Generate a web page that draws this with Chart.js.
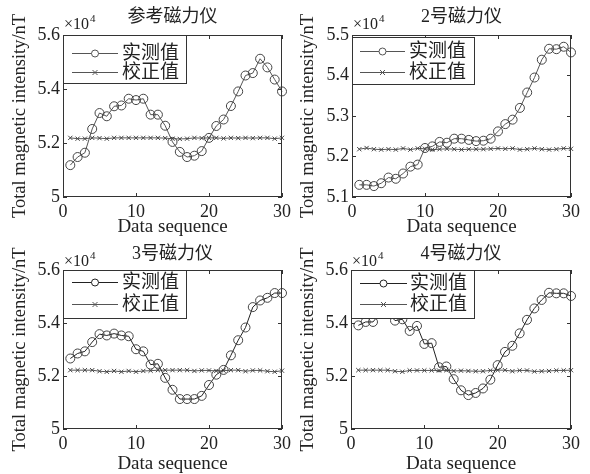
<!DOCTYPE html>
<html lang="zh">
<head>
<meta charset="UTF-8">
<title>磁力仪校正结果</title>
<script src="https://cdn.jsdelivr.net/npm/chart.js"></script>
<style>
  body { margin: 0; background: #fff; }
  .wrap { position: relative; width: 590px; height: 474px; }
  .panel { position: absolute; width: 295px; height: 237px; }
</style>
</head>
<body>
<div class="wrap">
  <div class="panel" style="left:0;top:0"><canvas id="c1"></canvas></div>
  <div class="panel" style="left:295px;top:0"><canvas id="c2"></canvas></div>
  <div class="panel" style="left:0;top:237px"><canvas id="c3"></canvas></div>
  <div class="panel" style="left:295px;top:237px"><canvas id="c4"></canvas></div>
</div>

<script>
// data (x10^4 nT)
const seq = [1,2,3,4,5,6,7,8,9,10,11,12,13,14,15,16,17,18,19,20,21,22,23,24,25,26,27,28,29,30];
const xTicks = [0, 10, 20, 30];
const seriesNames = ['实测值', '校正值'];

const refTicks = [5, 5.2, 5.4, 5.6];
const refMeasured = [5.118,5.148,5.164,5.252,5.311,5.299,5.336,5.339,5.364,5.359,5.364,5.305,5.305,5.264,5.204,
                     5.167,5.148,5.153,5.170,5.219,5.263,5.287,5.337,5.391,5.450,5.459,5.512,5.480,5.435,5.391];
const refCorrected = [5.219,5.216,5.216,5.219,5.218,5.216,5.219,5.219,5.219,5.219,5.219,5.219,5.219,5.218,5.216,
                      5.215,5.216,5.219,5.218,5.219,5.219,5.217,5.219,5.218,5.219,5.218,5.219,5.219,5.216,5.219];

const m2Ticks = [5.1, 5.2, 5.3, 5.4, 5.5];
const m2Measured = [5.130,5.130,5.127,5.134,5.148,5.145,5.158,5.175,5.180,5.221,5.225,5.236,5.234,5.244,5.244,
                    5.241,5.238,5.239,5.244,5.262,5.280,5.291,5.320,5.358,5.395,5.439,5.466,5.465,5.471,5.457];
const m2Corrected = [5.218,5.221,5.218,5.217,5.218,5.217,5.220,5.217,5.220,5.219,5.217,5.218,5.219,5.218,5.217,
                     5.218,5.218,5.218,5.219,5.220,5.219,5.220,5.217,5.218,5.220,5.218,5.217,5.218,5.220,5.219];

const m3Ticks = [5, 5.2, 5.4, 5.6];
const m3Measured = [5.266,5.285,5.293,5.328,5.358,5.353,5.360,5.353,5.350,5.301,5.293,5.243,5.246,5.193,5.148,
                    5.113,5.113,5.113,5.125,5.166,5.205,5.223,5.278,5.335,5.383,5.460,5.485,5.495,5.513,5.513];
const m3Corrected = [5.222,5.222,5.222,5.222,5.218,5.216,5.219,5.216,5.219,5.216,5.219,5.220,5.222,5.222,5.222,
                     5.222,5.222,5.219,5.221,5.221,5.219,5.220,5.222,5.222,5.218,5.221,5.221,5.218,5.216,5.220];

const m4Ticks = [5, 5.2, 5.4, 5.6];
const m4Measured = [5.391,5.404,5.404,5.438,5.442,5.409,5.414,5.370,5.389,5.321,5.324,5.233,5.236,5.188,5.146,
                    5.128,5.136,5.153,5.186,5.241,5.291,5.314,5.361,5.412,5.455,5.487,5.514,5.512,5.512,5.502];
const m4Corrected = [5.222,5.222,5.222,5.222,5.222,5.218,5.216,5.221,5.221,5.221,5.221,5.221,5.222,5.219,5.220,
                     5.219,5.218,5.218,5.221,5.222,5.222,5.218,5.221,5.221,5.217,5.218,5.219,5.221,5.221,5.222];

const FONT = '"Liberation Serif", "Noto Sans CJK SC", serif';
const AXIS = '#333';

// layout of each panel inside its 295x237 canvas
const panels = [
  { id: 'c1', title: '参考磁力仪', ticks: refTicks, measured: refMeasured, corrected: refCorrected,
    area: { l: 63, r: 283, t: 35, b: 197 }, yTitlePad: 9, mColor: '#555',
    legend: { x: 63, y: 35, w: 124, h: 49, row1: 53, row2: 72, lx0: 72, lx1: 118, tx: 122 } },
  { id: 'c2', title: '2号磁力仪', ticks: m2Ticks, measured: m2Measured, corrected: m2Corrected,
    area: { l: 57, r: 276, t: 35, b: 197 }, yTitlePad: 2, mColor: '#555',
    legend: { x: 57, y: 37, w: 123, h: 48, row1: 51, row2: 72, lx0: 65, lx1: 110, tx: 114 } },
  { id: 'c3', title: '3号磁力仪', ticks: m3Ticks, measured: m3Measured, corrected: m3Corrected,
    area: { l: 63, r: 283, t: 33, b: 192 }, yTitlePad: 9, mColor: '#222',
    legend: { x: 63, y: 33, w: 124, h: 49, row1: 45, row2: 67, lx0: 72, lx1: 118, tx: 122 } },
  { id: 'c4', title: '4号磁力仪', ticks: m4Ticks, measured: m4Measured, corrected: m4Corrected,
    area: { l: 56, r: 276, t: 33, b: 192 }, yTitlePad: 2, mColor: '#222',
    legend: { x: 56, y: 33, w: 124, h: 49, row1: 46, row2: 67, lx0: 65, lx1: 112, tx: 115 } }
];

// box, inward ticks, title, exponent label and legend drawn on top of the data
const decorPlugin = {
  id: 'decor',
  afterDatasetsDraw(chart, args, opts) {
    const { ctx, chartArea: a } = chart;
    const xs = chart.scales.x, ys = chart.scales.y;
    ctx.save();
    ctx.strokeStyle = AXIS;
    ctx.lineWidth = 1;
    ctx.strokeRect(a.left + 0.5, a.top + 0.5, a.right - a.left - 1, a.bottom - a.top - 1);
    ctx.beginPath();
    xs.ticks.forEach(t => {
      const px = Math.round(xs.getPixelForValue(t.value)) + 0.5;
      ctx.moveTo(px, a.bottom); ctx.lineTo(px, a.bottom - 4);
      ctx.moveTo(px, a.top); ctx.lineTo(px, a.top + 4);
    });
    ys.ticks.forEach(t => {
      const py = Math.round(ys.getPixelForValue(t.value)) + 0.5;
      ctx.moveTo(a.left, py); ctx.lineTo(a.left + 4, py);
      ctx.moveTo(a.right, py); ctx.lineTo(a.right - 4, py);
    });
    ctx.stroke();

    // panel title
    ctx.fillStyle = '#222';
    ctx.font = '18px ' + FONT;
    ctx.textAlign = 'center';
    ctx.textBaseline = 'middle';
    ctx.fillText(opts.title, (a.left + a.right) / 2, 17);

    // x10^4
    ctx.textAlign = 'left';
    ctx.textBaseline = 'alphabetic';
    ctx.font = '16px ' + FONT;
    ctx.fillText('×10', a.left + 1, 29);
    const w = ctx.measureText('×10').width;
    ctx.font = '11px ' + FONT;
    ctx.fillText('4', a.left + 2 + w, 22);

    // legend
    const L = opts.legend;
    ctx.fillStyle = '#fff';
    ctx.fillRect(L.x, L.y, L.w, L.h);
    ctx.strokeStyle = AXIS;
    ctx.strokeRect(L.x + 0.5, L.y + 0.5, L.w - 1, L.h - 1);
    const rows = [
      { y: L.row1, color: opts.mColor, style: 'circle', text: seriesNames[0] },
      { y: L.row2, color: '#555', style: 'cross', text: seriesNames[1] }
    ];
    rows.forEach(r => {
      ctx.strokeStyle = r.color;
      ctx.lineWidth = 1;
      ctx.beginPath();
      ctx.moveTo(L.lx0, r.y + 0.5); ctx.lineTo(L.lx1, r.y + 0.5);
      ctx.stroke();
      const mx = (L.lx0 + L.lx1) / 2;
      ctx.beginPath();
      if (r.style === 'circle') {
        ctx.fillStyle = '#fff';
        ctx.arc(mx, r.y + 0.5, 3.5, 0, Math.PI * 2);
        ctx.fill();
      } else {
        ctx.moveTo(mx - 2.5, r.y - 2); ctx.lineTo(mx + 2.5, r.y + 3);
        ctx.moveTo(mx + 2.5, r.y - 2); ctx.lineTo(mx - 2.5, r.y + 3);
      }
      ctx.stroke();
      ctx.fillStyle = '#222';
      ctx.font = '19px ' + FONT;
      ctx.textBaseline = 'middle';
      ctx.fillText(r.text, L.tx, r.y + 1);
    });
    ctx.restore();
  }
};

panels.forEach(p => {
  const A = p.area;
  new Chart(document.getElementById(p.id), {
    type: 'line',
    data: {
      datasets: [
        {
          label: seriesNames[0],
          data: seq.map((x, i) => ({ x: x, y: p.measured[i] })),
          borderColor: p.mColor,
          borderWidth: 1,
          pointStyle: 'circle',
          pointRadius: 4.5,
          pointBorderColor: '#444',
          pointBackgroundColor: 'rgba(0,0,0,0)',
          pointBorderWidth: 1,
          tension: 0,
          clip: false
        },
        {
          label: seriesNames[1],
          data: seq.map((x, i) => ({ x: x, y: p.corrected[i] })),
          borderColor: '#555',
          borderWidth: 1,
          pointStyle: 'crossRot',
          pointRadius: 3,
          pointBorderColor: '#444',
          pointBorderWidth: 1,
          tension: 0,
          clip: false
        }
      ]
    },
    options: {
      responsive: true,
      maintainAspectRatio: false,
      animation: false,
      layout: { padding: { left: 0, right: 295 - A.r, top: A.t, bottom: 0 } },
      plugins: {
        legend: { display: false },
        tooltip: { enabled: false },
        decor: { title: p.title, legend: p.legend, mColor: p.mColor }
      },
      scales: {
        x: {
          type: 'linear',
          min: 0, max: 30,
          afterBuildTicks: s => { s.ticks = xTicks.map(v => ({ value: v })); },
          afterFit: s => { s.height = 237 - A.b; },
          grid: { display: false, drawTicks: false },
          border: { display: false },
          ticks: { color: '#222', padding: 4, maxRotation: 0, font: { family: FONT, size: 18 } },
          title: { display: true, text: 'Data sequence', color: '#222',
                   font: { family: FONT, size: 19, lineHeight: 1 }, padding: { top: 0, bottom: 0 } }
        },
        y: {
          type: 'linear',
          min: p.ticks[0], max: p.ticks[p.ticks.length - 1],
          afterBuildTicks: s => { s.ticks = p.ticks.map(v => ({ value: v })); },
          afterFit: s => { s.width = A.l; },
          grid: { display: false, drawTicks: false },
          border: { display: false },
          ticks: { color: '#222', padding: 3, font: { family: FONT, size: 18 },
                   callback: v => String(Number(v.toFixed(1))) },
          title: { display: true, text: 'Total magnetic intensity/nT', color: '#222',
                   font: { family: FONT, size: 18.5 }, padding: { top: p.yTitlePad, bottom: 0 } }
        }
      }
    },
    plugins: [decorPlugin]
  });
});
</script>
</body>
</html>
